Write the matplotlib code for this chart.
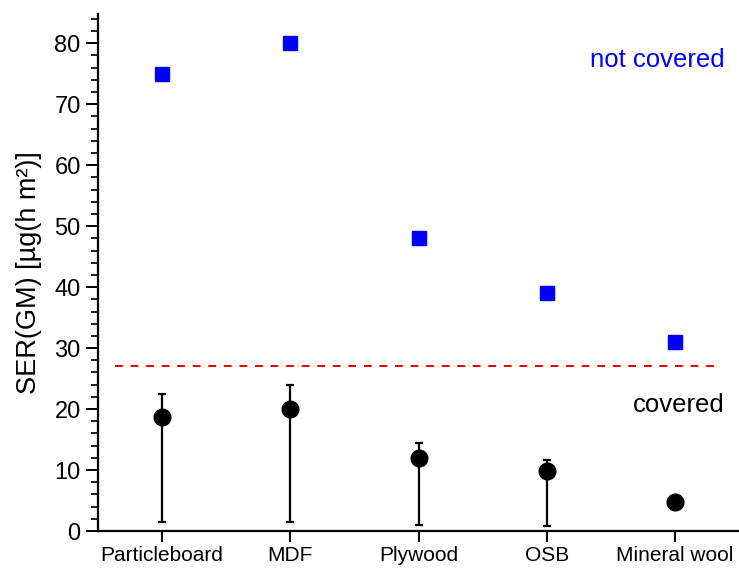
import matplotlib
matplotlib.use("Agg")
import matplotlib.pyplot as plt
import numpy as np
from matplotlib.ticker import MultipleLocator

plt.rcParams['font.family'] = ['Liberation Sans', 'DejaVu Sans']

materials = ["Particleboard", "MDF", "Plywood", "OSB", "Mineral wool"]
not_covered = [75, 80, 48, 39, 31]
covered = [18.7, 20.0, 12.0, 9.8, 4.7]
covered_upper = [22.5, 24.0, 14.4, 11.7, 4.7]
covered_lower = [1.5, 1.5, 1.0, 0.8, 4.7]
threshold = 27

x = np.arange(len(materials))

fig = plt.figure(figsize=(7.39, 5.70), dpi=100)
ax = fig.add_axes([98/739, 39/570, 1 - 98/739, 517/570])

yerr = [np.array(covered) - np.array(covered_lower),
        np.array(covered_upper) - np.array(covered)]
ax.errorbar(x, covered, yerr=yerr, fmt='o', color='black', ecolor='black',
            markersize=12, elinewidth=1.6, capsize=3, capthick=1.6, zorder=3)
ax.plot(x, not_covered, 's', color='#0000ff', markersize=10.5, zorder=3)

ax.plot([-0.37, 4.31], [threshold, threshold], color='#e00000',
        linestyle=(0, (4, 4)), linewidth=1.4, zorder=2)

ax.text(4.39, 77.2, "not covered", color='#0000ff', fontsize=18.5,
        ha='right', va='center')
ax.text(4.39, 20.7, "covered", color='black', fontsize=18.5,
        ha='right', va='center')

ax.set_xlim(-0.5, 4.5)
ax.set_ylim(0, 84.8)
ax.set_xticks(x)
ax.set_xticklabels(materials, fontsize=15)
ax.yaxis.set_major_locator(MultipleLocator(10))
ax.yaxis.set_minor_locator(MultipleLocator(2))
ax.tick_params(axis='y', which='major', length=9, width=1.4, labelsize=17, direction='out')
ax.tick_params(axis='y', which='minor', length=5, width=1.2, direction='out')
ax.tick_params(axis='x', which='major', length=8, width=1.4, direction='out', pad=3)
ax.set_ylabel("SER(GM) [µg(h m²)]", fontsize=19.5, labelpad=9)

ax.spines['top'].set_visible(False)
ax.spines['right'].set_visible(False)
ax.spines['left'].set_linewidth(1.6)
ax.spines['bottom'].set_linewidth(1.6)

fig.savefig("out.png", dpi=100)
